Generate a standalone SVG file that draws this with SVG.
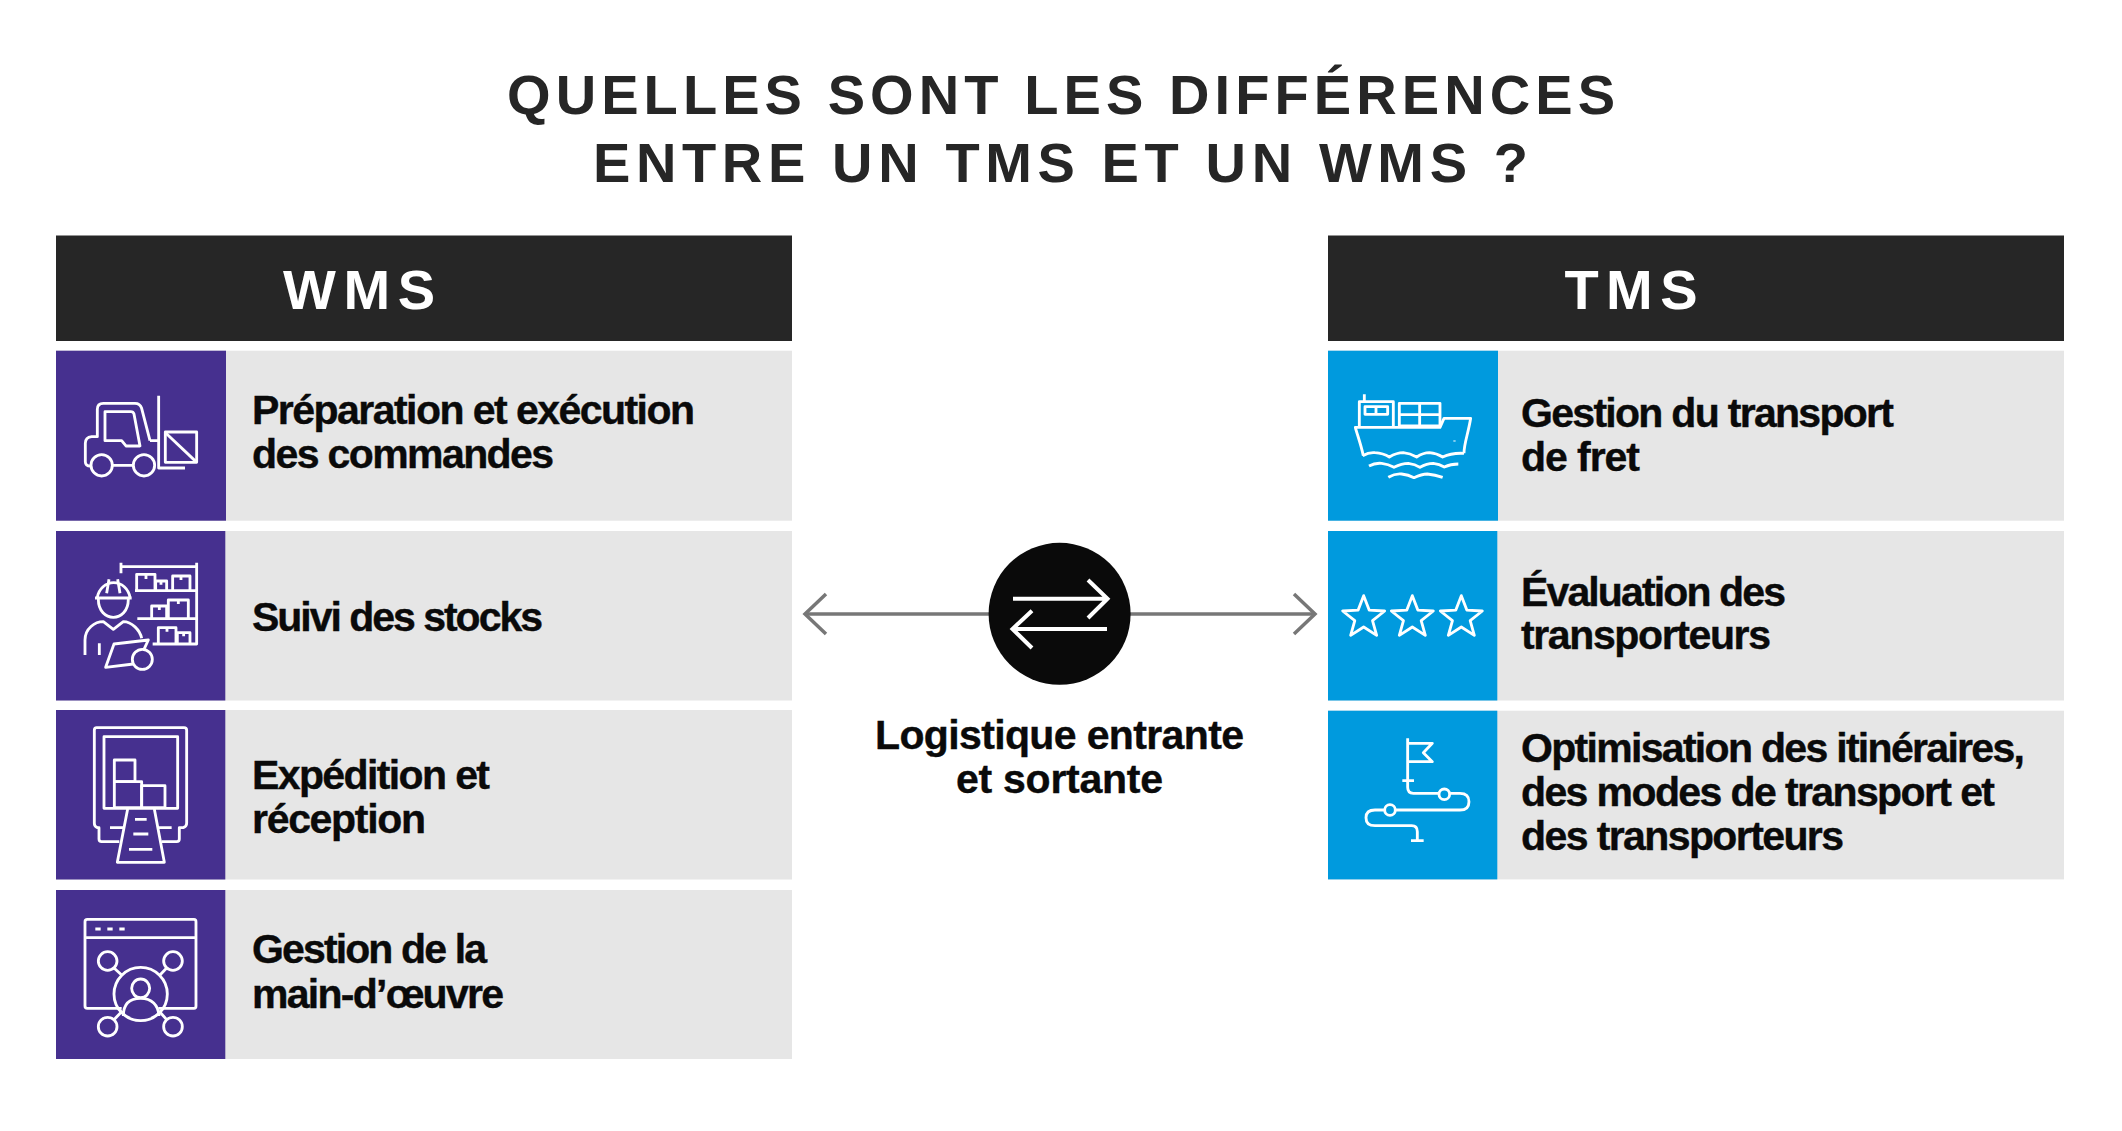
<svg xmlns="http://www.w3.org/2000/svg" xmlns:xlink="http://www.w3.org/1999/xlink" width="2122" height="1131" viewBox="0 0 2122 1131">
<style>
text{font-family:"Liberation Sans",Arial,sans-serif;font-weight:700}
.t{font-size:56px;fill:#262626}
.h{font-size:56px;fill:#fff}
.l{font-size:41px;fill:#0a0a0a;stroke:#0a0a0a;stroke-width:.4}
.c{font-size:41px;fill:#0a0a0a;stroke:#0a0a0a;stroke-width:.4}
.hd{fill:#262626}.row{fill:#e6e6e6}.p{fill:#46308f}.b{fill:#009ade}
.i{fill:none;stroke:#fff;stroke-width:8.500;stroke-linecap:butt;stroke-linejoin:round}
.cn{stroke:#777;stroke-width:3.500;fill:none}
</style>
<defs>
<marker id="ah" markerUnits="userSpaceOnUse" markerWidth="26" markerHeight="44" viewBox="0 0 26 44" refX="23" refY="22" orient="auto-start-reverse"><path d="M2 2L23 22L2 42" fill="none" stroke="#777" stroke-width="3.500"/></marker>
<polygon id="star" points="0,-66 16.500,-22.700 63,-20 26.600,8.700 39,53 0,28 -39,53 -26.600,8.700 -63,-20 -16.500,-22.700"/>
</defs>
<rect width="2122" height="1131" fill="#fff"/>
<g id="title">
<text class="t" x="507" y="114" textLength="1108">QUELLES SONT LES DIFFÉRENCES</text>
<text class="t" x="593" y="182" textLength="935">ENTRE UN TMS ET UN WMS ?</text>
</g>
<g id="connectors">
<line class="cn" x1="990" y1="614" x2="805" y2="614" marker-end="url(#ah)"/>
<line class="cn" x1="1130" y1="614" x2="1315" y2="614" marker-end="url(#ah)"/>
</g>
<g id="hub">
<circle cx="1059.600" cy="613.800" r="71" fill="#0a0a0a"/>
<path d="M1013 598.700H1107M1088 580L1107.500 598.700L1088 618M1107 629H1013M1032 610.700L1012.500 629L1032 648" fill="none" stroke="#fff" stroke-width="4"/>
<text class="c" x="875" y="749" textLength="369">Logistique entrante</text>
<text class="c" x="956" y="792.500" textLength="207">et sortante</text>
</g>
<g id="wms-header"><rect class="hd" x="56" y="235.500" width="736" height="105.500"/><text class="h" x="283" y="308.800" textLength="152">WMS</text></g>
<g id="tms-header"><rect class="hd" x="1328" y="235.500" width="736" height="105.500"/><text class="h" x="1564.500" y="308.800" textLength="133">TMS</text></g>

<g id="wms-1">
<rect class="row" x="56" y="350.700" width="736" height="170"/><rect class="p" x="56" y="350.700" width="170" height="170"/>
<g class="i" transform="translate(40 230) scale(.3333)">
<path d="M330 632L305 535Q300 520 285 520H190Q172 520 172 538V620H155Q136 622 136 640V695Q136 708 152 708M218 706H280M330 632H356"/>
<path d="M356 497V714H435"/>
<path d="M195 545H272Q280 545 282 552L300 648H258L245 632H195Z"/>
<circle cx="185" cy="706" r="32"/><circle cx="312" cy="706" r="32"/>
<rect x="376" y="606" width="94" height="91"/><path d="M378 610L468 695"/>
</g>
<text class="l" x="252" y="424.300" textLength="443">Préparation et exécution</text>
<text class="l" x="252" y="468.300" textLength="302">des commandes</text>
</g>

<g id="wms-2">
<rect class="row" x="56" y="531" width="736" height="169.500"/><rect class="p" x="56" y="531" width="169.300" height="169.500"/>
<g class="i" transform="translate(40 520) scale(.3333)">
<path d="M243 140H470M243 128V160M470 128V372H338M292 296H470M285 212H470"/>
<path d="M290 212V163H345V212M318 165V177M347 212V183H380V212M363 184V194M398 212V168H450V212M423 169V180"/>
<path d="M335 296V258H380V296M358 259V270M385 296V240H445V296M415 241V252"/>
<path d="M355 370V323H408V370M381 324V335M412 370V338H450V370M431 339V349"/>
<path d="M172 232A50 55 0 0 1 270 232M165 234H275M200 220L207 178M240 220L233 178M175 238C175 310 265 310 265 238"/>
<path d="M135 405V360C135 325 165 305 190 305L220 328L250 305C275 305 300 330 305 355M178 370V405"/>
<path d="M280 432L197 442L222 372L325 360L312 388"/><circle cx="307" cy="418" r="30"/>
</g>
<text class="l" x="252" y="630.500" textLength="291">Suivi des stocks</text>
</g>

<g id="wms-3">
<rect class="row" x="56" y="710" width="736" height="169.500"/><rect class="p" x="56" y="710" width="169.300" height="169.500"/>
<g class="i" transform="translate(60 715) scale(.3333)">
<path d="M305 380H350Q358 380 358 372V338H370Q380 335 380 325V46Q380 38 372 38H110Q103 38 103 46V325Q103 335 112 338H117V372Q117 380 125 380H178M150 338H190M295 338H335"/>
<rect x="132" y="65" width="221" height="215"/>
<rect x="163" y="135" width="62" height="65"/><rect x="163" y="200" width="82" height="78"/><rect x="245" y="212" width="70" height="66"/>
<path d="M203 282L172 442H313L283 282M225 313H260M220 357H265M207 403H277"/>
</g>
<text class="l" x="252" y="789.300" textLength="238">Expédition et</text>
<text class="l" x="252" y="833" textLength="174">réception</text>
</g>

<g id="wms-4">
<rect class="row" x="56" y="890" width="736" height="169"/><rect class="p" x="56" y="890" width="169.300" height="169"/>
<g class="i" transform="translate(40 810) scale(.3333)">
<path d="M245 595H142Q135 595 135 588V335Q135 328 142 328H462Q468 328 468 335V588Q468 595 462 595H355M135 383H468"/>
<path d="M166 357H182M202 357H218M238 357H254"/>
<circle cx="302" cy="552" r="80"/><ellipse cx="302" cy="535" rx="27" ry="28"/>
<path d="M250 618C250 580 270 565 302 565C335 565 355 585 357 618"/>
<circle cx="203" cy="453" r="28"/><circle cx="399" cy="453" r="28"/><circle cx="203" cy="650" r="28"/><circle cx="399" cy="650" r="28"/>
<path d="M222 474L245 495M380 474L360 495M222 629L247 603M380 629L357 603"/>
</g>
<text class="l" x="252" y="963.300" textLength="235">Gestion de la</text>
<text class="l" x="252" y="1007.500" textLength="252">main-d’œuvre</text>
</g>

<g id="tms-1">
<rect class="row" x="1328" y="350.700" width="736" height="170"/><rect class="b" x="1328" y="350.700" width="170" height="170"/>
<g class="i" transform="translate(1320 340) scale(.3333)">
<path d="M133 163V183M118 258V185H220V258"/><rect x="135" y="200" width="68" height="23"/><path d="M168 200V223"/>
<rect x="238" y="190" width="122" height="68"/><path d="M299 190V258M238 224H360"/>
<path d="M130 347C122 310 112 285 106 262H360L372 235H452C445 280 432 310 432 340"/>
<path d="M128 347Q147 336 165 338Q190 340 208 351Q230 338 250 338Q270 340 290 351Q310 338 328 338Q350 340 368 351Q395 338 432 340"/>
<path d="M147 378Q165 368 185 370Q205 372 222 382Q245 370 265 370Q285 372 300 382Q320 370 340 370Q358 372 373 381Q392 372 415 372"/>
<path d="M205 412Q225 400 245 402Q265 404 282 413Q305 402 322 402Q345 404 368 412"/>
<path d="M400 303H407" style="stroke-width:3"/>
</g>
<text class="l" x="1521" y="426.500" textLength="373">Gestion du transport</text>
<text class="l" x="1521" y="470.800" textLength="119">de fret</text>
</g>

<g id="tms-2">
<rect class="row" x="1328" y="531" width="736" height="169.500"/><rect class="b" x="1328" y="531" width="169.300" height="169.500"/>
<g class="i" transform="translate(1320 530) scale(.3333)">
<use xlink:href="#star" href="#star" x="131" y="263"/><use xlink:href="#star" href="#star" x="277" y="263"/><use xlink:href="#star" href="#star" x="424" y="263"/>
</g>
<text class="l" x="1521" y="606" textLength="265">Évaluation des</text>
<text class="l" x="1521" y="649.300" textLength="250">transporteurs</text>
</g>

<g id="tms-3">
<rect class="row" x="1328" y="710.700" width="736" height="168.700"/><rect class="b" x="1328" y="710.700" width="169.300" height="168.700"/>
<g class="i" transform="translate(1320 530) scale(.3333)">
<path d="M263 625V772Q263 790 280 790H357M391 790H420Q447 790 447 815Q447 840 420 840H228M192 840H165Q138 840 138 863Q138 887 165 887H275Q292 887 292 905V930M273 932H311M247 752H282"/>
<path d="M263 640H337L310 668L337 695H263"/>
<circle cx="373" cy="793" r="16"/><circle cx="210" cy="840" r="16"/>
</g>
<text class="l" x="1521" y="762" textLength="504">Optimisation des itinéraires,</text>
<text class="l" x="1521" y="806.300" textLength="474">des modes de transport et</text>
<text class="l" x="1521" y="850" textLength="323">des transporteurs</text>
</g>
</svg>
